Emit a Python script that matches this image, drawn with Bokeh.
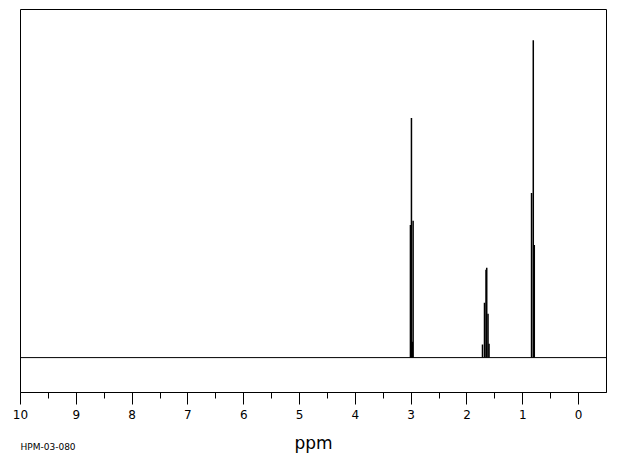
from bokeh.plotting import figure
from bokeh.models import Range1d, FixedTicker, Span, Title
from bokeh.embed import file_html
from bokeh.resources import INLINE

# peak positions (ppm) and intensities (tallest = 100)
peak_ppm = [3.013, 2.995, 2.965, 3.003, 2.978,
            1.722, 1.686, 1.659, 1.646, 1.623, 1.605,
            0.843, 0.812, 0.794]
peak_int = [41.8, 75.5, 43.1, 5.0, 5.0,
            4.1, 17.3, 27.7, 28.3, 13.8, 4.4,
            51.9, 100.0, 35.5]
tick_values = [0, 1, 2, 3, 4, 5, 6, 7, 8, 9, 10]
minor_values = [0.5, 1.5, 2.5, 3.5, 4.5, 5.5, 6.5, 7.5, 8.5, 9.5]
x_label = "ppm"
sample_id = "HPM-03-080"

p = figure(width=612, height=455, output_backend="svg", toolbar_location=None,
           x_range=Range1d(10, -0.5), y_range=Range1d(-11.0, 109.7),
           min_border_left=20, min_border_right=6, min_border_top=9, min_border_bottom=62)

p.segment(x0=peak_ppm, y0=[0] * len(peak_ppm), x1=peak_ppm, y1=peak_int,
          line_color="black", line_width=1.5)
p.add_layout(Span(location=0, dimension="width", line_color="black", line_width=1))

p.xgrid.visible = False
p.ygrid.visible = False
p.yaxis.visible = False
p.outline_line_color = "black"
p.outline_line_width = 1
p.outline_line_alpha = 1

ax = p.xaxis[0]
ax.ticker = FixedTicker(ticks=tick_values, minor_ticks=minor_values)
ax.major_tick_in = 0
ax.major_tick_out = 12
ax.minor_tick_in = 0
ax.minor_tick_out = 6
ax.major_tick_line_color = "black"
ax.minor_tick_line_color = "black"
ax.axis_line_color = "black"
ax.major_label_text_font = "DejaVu Sans"
ax.major_label_text_font_size = "12px"
ax.major_label_text_color = "black"
ax.major_label_standoff = 5
ax.axis_label = x_label
ax.axis_label_text_font = "DejaVu Sans"
ax.axis_label_text_font_size = "17px"
ax.axis_label_text_font_style = "normal"
ax.axis_label_text_color = "black"
ax.axis_label_standoff = 11

p.add_layout(Title(text=sample_id, align="left", vertical_align="top",
                   text_font="DejaVu Sans", text_font_size="9px",
                   text_font_style="normal", text_color="black",
                   standoff=-28), "below")

p.background_fill_color = "white"
p.border_fill_color = "white"

open("out.html", "w").write(file_html(p, INLINE))
